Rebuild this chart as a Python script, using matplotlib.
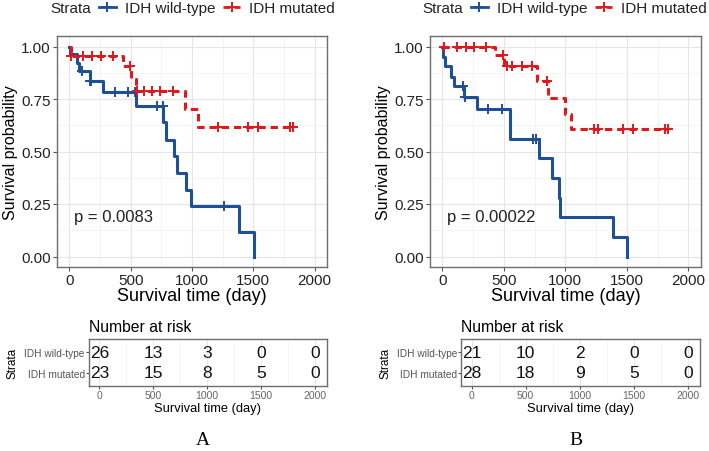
import numpy as np
import matplotlib.pyplot as plt
from matplotlib.lines import Line2D

plt.rcParams['font.family'] = ['Liberation Sans', 'DejaVu Sans']

# ---- data ----
# panel A
a_wt_time = [0, 5, 60, 81, 168, 277, 543, 766, 785, 855, 875, 950, 988, 1384, 1504]
a_wt_surv = [1.0, 0.962, 0.923, 0.885, 0.836, 0.781, 0.716, 0.64, 0.557, 0.477, 0.398, 0.318, 0.239, 0.119, 0.0]
a_wt_cens = [101, 169, 175, 372, 480, 535, 711, 765, 1262]
a_mu_time = [0, 12, 440, 502, 543, 942, 1046, 1824]
a_mu_surv = [1.0, 0.957, 0.905, 0.846, 0.79, 0.703, 0.616, 0.616]
a_mu_cens = [12, 114, 182, 258, 353, 494, 550, 608, 671, 739, 842, 1214, 1458, 1539, 1797, 1824]
a_pval = "p = 0.0083"
a_risk_wt = [26, 13, 3, 0, 0]
a_risk_mu = [23, 15, 8, 5, 0]

# panel B
b_wt_time = [0, 8, 22, 70, 98, 179, 285, 550, 786, 889, 948, 957, 1390, 1504]
b_wt_surv = [1.0, 0.952, 0.905, 0.857, 0.81, 0.76, 0.703, 0.56, 0.467, 0.373, 0.28, 0.187, 0.093, 0.0]
b_wt_cens = [171, 184, 374, 482, 740, 761]
b_mu_time = [0, 428, 505, 768, 856, 1000, 1046, 1832]
b_mu_surv = [1.0, 0.96, 0.905, 0.836, 0.756, 0.68, 0.605, 0.605]
b_mu_cens = [16, 116, 190, 260, 352, 490, 523, 564, 645, 726, 848, 1236, 1263, 1466, 1547, 1810, 1832]
b_pval = "p = 0.00022"
b_risk_wt = [21, 10, 2, 0, 0]
b_risk_mu = [28, 18, 9, 5, 0]

risk_times = [0, 500, 1000, 1500, 2000]
strata = ["IDH wild-type", "IDH mutated"]

BLUE = "#1F4F96"
RED = "#E2161B"
BLUE_TXT = "#3C6FB0"
RED_TXT = "#D9262B"
DASH = (0, (2.4, 1.6))

W, H = 709, 452
fig = plt.figure(figsize=(W / 100, H / 100), dpi=100)


def box(l, r, t, b):
    return [l / W, 1 - b / H, (r - l) / W, (b - t) / H]


def surv_at(times, surv, t):
    i = np.searchsorted(times, t, side='right') - 1
    return surv[max(i, 0)]


def style_bw(ax):
    for s in ax.spines.values():
        s.set_color('#6e6e6e')
        s.set_linewidth(1.0)
    ax.tick_params(colors='#555555', length=3, width=0.8)


def km_panel(ax, wt, mu, pval):
    (wt_t, wt_s, wt_c), (mu_t, mu_s, mu_c) = wt, mu
    ax.step(wt_t, wt_s, where='post', color=BLUE, lw=2.2, zorder=3)
    ax.plot(wt_c, [surv_at(wt_t, wt_s, c) for c in wt_c], ls='none', marker='+',
            ms=7.5, mew=1.4, color=BLUE, zorder=4)
    ax.step(mu_t, mu_s, where='post', color=RED, lw=2.2, ls=DASH, zorder=3)
    ax.plot(mu_c, [surv_at(mu_t, mu_s, c) for c in mu_c], ls='none', marker='+',
            ms=7.5, mew=1.4, color=RED, zorder=4)
    ax.set_xlim(-100, 2100)
    ax.set_ylim(-0.05, 1.05)
    ax.set_xticks([0, 500, 1000, 1500, 2000])
    ax.set_xticks([250, 750, 1250, 1750], minor=True)
    ax.set_yticks([0, 0.25, 0.5, 0.75, 1.0])
    ax.set_yticklabels(["0.00", "0.25", "0.50", "0.75", "1.00"])
    ax.set_yticks([0.125, 0.375, 0.625, 0.875], minor=True)
    ax.grid(which='major', color='#e6e6e6', lw=0.8)
    ax.grid(which='minor', color='#f2f2f2', lw=0.6)
    ax.set_axisbelow(True)
    style_bw(ax)
    ax.tick_params(which='minor', length=0)
    ax.tick_params(labelsize=11, labelcolor='#222222', pad=1.5)
    ax.set_xlabel("Survival time (day)", fontsize=13, labelpad=0)
    ax.set_ylabel("Survival probability", fontsize=11.5, labelpad=2)
    ax.text(40, 0.19, pval, fontsize=12, ha='left', va='center', color='#222222')


def risk_panel(ax, wt, mu):
    for i, t in enumerate(risk_times):
        ax.text(t, 2, str(wt[i]), ha='center', va='center', fontsize=12.5, color='#111111')
        ax.text(t, 1, str(mu[i]), ha='center', va='center', fontsize=12.5, color='#111111')
    ax.set_xlim(-95, 2110)
    ax.set_ylim(0.37, 2.64)
    ax.set_xticks(risk_times)
    ax.set_xticks([250, 750, 1250, 1750], minor=True)
    ax.set_yticks([2, 1])
    ax.set_yticklabels(strata)
    ax.get_yticklabels()[0].set_color(BLUE_TXT)
    ax.get_yticklabels()[1].set_color(RED_TXT)
    ax.grid(axis='x', which='major', color='#e8e8e8', lw=0.7)
    ax.grid(axis='x', which='minor', color='#f3f3f3', lw=0.5)
    ax.set_axisbelow(True)
    style_bw(ax)
    ax.tick_params(which='minor', length=0)
    ax.tick_params(axis='x', labelsize=7.5, labelcolor='#666666', length=2, pad=1)
    ax.tick_params(axis='y', labelsize=7.3, length=2, pad=1)
    ax.set_xlabel("Survival time (day)", fontsize=9.3, labelpad=1)
    ax.set_ylabel("Strata", fontsize=8.5, labelpad=4)
    ax.set_title("Number at risk", fontsize=11.3, loc='left', pad=6)


panels = [
    dict(main=box(57, 327, 37, 268), risk=box(89, 327, 340, 387), leg_x=50, tag_x=203, tag="A",
         wt=(a_wt_time, a_wt_surv, a_wt_cens), mu=(a_mu_time, a_mu_surv, a_mu_cens),
         pval=a_pval, rwt=a_risk_wt, rmu=a_risk_mu),
    dict(main=box(430, 700.7, 37, 268), risk=box(461.3, 699.7, 340, 387), leg_x=422, tag_x=576, tag="B",
         wt=(b_wt_time, b_wt_surv, b_wt_cens), mu=(b_mu_time, b_mu_surv, b_mu_cens),
         pval=b_pval, rwt=b_risk_wt, rmu=b_risk_mu),
]

for p in panels:
    ax = fig.add_axes(p['main'])
    km_panel(ax, p['wt'], p['mu'], p['pval'])
    axr = fig.add_axes(p['risk'])
    risk_panel(axr, p['rwt'], p['rmu'])

    # legend on top
    fig.text(p['leg_x'] / W, 1 - 9 / H, "Strata", fontsize=11, ha='left', va='center', color='#222222')
    handles = [Line2D([], [], color=BLUE, lw=2, marker='+', ms=7.5, mew=1.4),
               Line2D([], [], color=RED, lw=2, ls=DASH, marker='+', ms=7.5, mew=1.4)]
    fig.legend(handles, strata, ncol=2, frameon=False, fontsize=11,
               loc='center left', bbox_to_anchor=((p['leg_x'] + 49) / W, 1 - 9 / H),
               handlelength=1.1, handletextpad=0.6, columnspacing=0.5, borderaxespad=0,
               borderpad=0, labelcolor='#222222')

    fig.text(p['tag_x'] / W, 1 - 441 / H, p['tag'], fontsize=14, ha='center', va='center',
             family='Liberation Serif')

fig.savefig("out.png", dpi=100)
